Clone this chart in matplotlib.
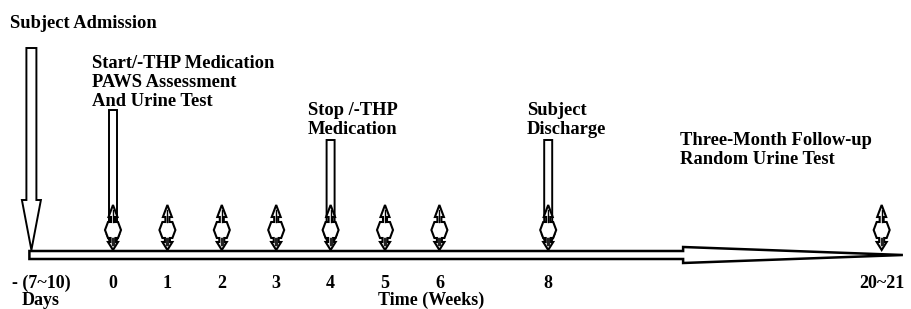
import matplotlib.pyplot as plt
from matplotlib.patches import Polygon

# time points (weeks); admission is 7~10 days before week 0,
# follow-up is drawn compressed after the break
weeks = [-1.5, 0, 1, 2, 3, 4, 5, 6, 8, 14.13]
tick_labels = ["- (7~10)", "0", "1", "2", "3", "4", "5", "6", "8", "20~21"]
test_weeks = [0, 1, 2, 3, 4, 5, 6, 8, 14.13]
event_weeks = [-1.5, 0, 4, 8]
event_tops = [48, 110, 140, 140]

W = 54.4   # px per week
X0 = 113   # px of week 0

plt.rcParams['font.family'] = ['Liberation Serif', 'DejaVu Serif']
plt.rcParams['font.weight'] = 'bold'

fig = plt.figure(figsize=(9.11, 3.09), dpi=100)
ax = fig.add_axes([0, 0, 1, 1])
ax.set_xlim(-X0 / W, (911 - X0) / W)
ax.set_ylim(309, 0)
ax.axis('off')


def px(p):
    return p / W


# timeline bar with long tapering head
x_start = weeks[0] - px(2)
x_head = 10.48
x_tip = 14.52
tl = [(x_start, 251), (x_head, 251), (x_head, 247), (x_tip, 255),
      (x_head, 263), (x_head, 259), (x_start, 259)]
ax.add_patch(Polygon(tl, closed=True, fc='white', ec='black', lw=1.8, zorder=1))


def down_arrow(x, top, tip, hw, hh, hl):
    pts = [(x - px(hw), top), (x + px(hw), top), (x + px(hw), tip - hl),
           (x + px(hh), tip - hl), (x, tip), (x - px(hh), tip - hl),
           (x - px(hw), tip - hl)]
    ax.add_patch(Polygon(pts, closed=True, fc='white', ec='black', lw=1.4, zorder=2))


for i, (w, t) in enumerate(zip(event_weeks, event_tops)):
    if i == 0:
        down_arrow(w, t, 250, 5, 9.5, 50)
    else:
        down_arrow(w, t, 249, 4, 6, 14)

# urine test icons (up/down + left/right block arrow)
icon = [(0, 0), (4.5, 12), (2, 12), (2, 17), (5, 17), (8, 25), (5, 33),
        (2.5, 33), (2.5, 37), (5, 37), (0, 45), (-5, 37), (-2.5, 37), (-2.5, 33),
        (-5, 33), (-8, 25), (-5, 17), (-2, 17), (-2, 12), (-4.5, 12)]
for w in test_weeks:
    top = 205
    pts = [(w + px(dx), top + dy) for dx, dy in icon]
    ax.add_patch(Polygon(pts, closed=True, fc='white', ec='black', lw=1.5, zorder=3))
    ax.plot([w, w], [top + 5, top + 17], color='black', lw=1.0, zorder=4)
    for dx in (-1, 0, 1):
        ax.plot([w + px(dx), w + px(dx)], [top + 33, top + 40], color='#222222',
                lw=1.0, zorder=4)

# tick labels
for w, lab in zip(weeks, tick_labels):
    xx = w + px(10) if lab.startswith('-') else w
    ax.text(xx, 275, lab, ha='center', va='top', fontsize=13)

ax.text(weeks[0] + px(9), 292, 'Days', ha='center', va='top', fontsize=13)
ax.text(5.85, 292, 'Time (Weeks)', ha='center', va='top', fontsize=13)

# annotations
fs = 13.3
ls = 1.15
ax.text(px(10 - X0), 15, 'Subject Admission', ha='left', va='top', fontsize=fs)
ax.text(px(92 - X0), 55, 'Start/-THP Medication\nPAWS Assessment\nAnd Urine Test',
        ha='left', va='top', fontsize=fs, linespacing=ls)
ax.text(px(308 - X0), 102, 'Stop /-THP\nMedication', ha='left', va='top',
        fontsize=fs, linespacing=ls)
ax.text(px(527 - X0), 102, 'Subject\nDischarge', ha='left', va='top',
        fontsize=fs, linespacing=ls)
ax.text(px(680 - X0), 132, 'Three-Month Follow-up\nRandom Urine Test', ha='left',
        va='top', fontsize=fs, linespacing=ls)

fig.savefig('out.png', dpi=100)
